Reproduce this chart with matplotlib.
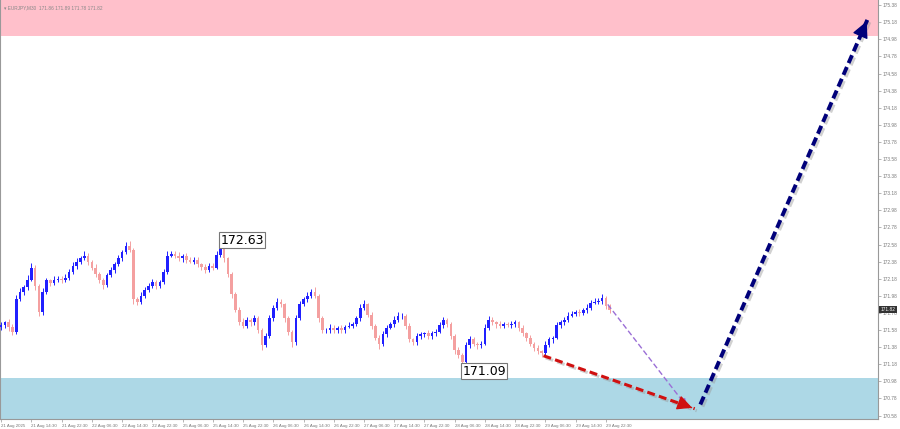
import matplotlib
matplotlib.use("Agg")
import matplotlib.pyplot as plt
import matplotlib.patheffects as pe
import matplotlib.transforms as mtransforms

# EURJPY, hourly candles 21 Aug - 29 Aug 2025
first_open = 171.62
closes = [
    171.64, 171.67, 171.62, 171.56, 171.94, 172.03, 172.08, 172.17, 172.31, 172.10,
    171.79, 172.03, 172.16, 172.13, 172.17, 172.18, 172.16, 172.19, 172.26, 172.33,
    172.38, 172.42, 172.45, 172.38, 172.31, 172.23, 172.17, 172.11, 172.22, 172.28,
    172.35, 172.42, 172.49, 172.56, 172.52, 171.94, 171.91, 171.98, 172.05, 172.10,
    172.14, 172.10, 172.14, 172.26, 172.45, 172.47, 172.45, 172.42, 172.45, 172.40,
    172.38, 172.40, 172.35, 172.32, 172.28, 172.33, 172.31, 172.46, 172.56, 172.42,
    172.23, 172.00, 171.82, 171.68, 171.63, 171.70, 171.67, 171.72, 171.58, 171.41,
    171.51, 171.72, 171.84, 171.91, 171.88, 171.72, 171.56, 171.44, 171.72, 171.89,
    171.94, 171.98, 172.03, 171.98, 171.72, 171.58, 171.58, 171.61, 171.58, 171.61,
    171.58, 171.62, 171.63, 171.65, 171.72, 171.84, 171.88, 171.76, 171.63, 171.49,
    171.42, 171.53, 171.61, 171.65, 171.70, 171.74, 171.75, 171.63, 171.47, 171.44,
    171.51, 171.53, 171.54, 171.51, 171.54, 171.56, 171.64, 171.70, 171.65, 171.51,
    171.35, 171.29, 171.21, 171.41, 171.47, 171.42, 171.40, 171.42, 171.61, 171.70,
    171.67, 171.65, 171.63, 171.65, 171.64, 171.65, 171.67, 171.61, 171.54, 171.49,
    171.42, 171.37, 171.33, 171.31, 171.41, 171.47, 171.49, 171.64, 171.67, 171.70,
    171.75, 171.77, 171.79, 171.78, 171.81, 171.84, 171.90, 171.91, 171.92, 171.95,
    171.86, 171.82,
]
# upper / lower shadows in pips (0.01)
wick_up = [
    3, 2, 4, 3, 5, 4, 3, 5, 6, 3, 2, 4, 3, 2, 4, 3, 3, 4, 3, 5,
    4, 3, 5, 3, 2, 4, 3, 2, 3, 4, 3, 4, 3, 5, 6, 2, 3, 4, 3, 3,
    4, 3, 2, 4, 5, 3, 3, 4, 2, 3, 3, 4, 3, 2, 3, 4, 3, 4, 7, 3,
    2, 3, 2, 3, 4, 3, 2, 4, 2, 3, 3, 4, 3, 5, 3, 2, 3, 2, 4, 3,
    3, 4, 3, 5, 2, 3, 3, 4, 3, 2, 3, 2, 4, 3, 3, 4, 5, 2, 3, 2,
    3, 4, 3, 3, 4, 5, 3, 2, 3, 2, 3, 3, 2, 4, 3, 3, 4, 3, 2, 3,
    2, 3, 2, 3, 4, 3, 2, 3, 4, 5, 3, 2, 4, 3, 3, 4, 3, 2, 3, 2,
    3, 2, 3, 2, 4, 3, 2, 4, 3, 3, 4, 3, 3, 4, 3, 4, 3, 4, 3, 5,
    3, 3,
]
wick_dn = [
    4, 3, 5, 4, 3, 2, 4, 3, 2, 5, 5, 3, 3, 4, 2, 3, 3, 2, 3, 2,
    3, 3, 2, 4, 3, 3, 4, 5, 3, 2, 3, 2, 3, 2, 3, 6, 4, 3, 3, 2,
    3, 4, 3, 2, 3, 2, 3, 3, 4, 3, 2, 3, 3, 4, 3, 2, 3, 2, 3, 4,
    3, 4, 3, 4, 3, 3, 4, 3, 4, 6, 3, 2, 3, 2, 3, 4, 4, 6, 3, 2,
    3, 3, 2, 3, 4, 4, 3, 3, 3, 4, 3, 3, 2, 3, 2, 3, 2, 3, 4, 3,
    6, 3, 3, 2, 3, 2, 3, 4, 3, 4, 3, 4, 3, 3, 4, 3, 2, 3, 3, 4,
    5, 4, 12, 3, 4, 3, 4, 3, 2, 3, 3, 4, 3, 3, 2, 3, 3, 4, 3, 4,
    3, 4, 3, 5, 3, 3, 4, 2, 3, 3, 3, 2, 3, 3, 2, 3, 3, 2, 3, 3,
    3, 4,
]

time_labels = [
    "21 Aug 2025", "21 Aug 14:30", "21 Aug 22:30", "22 Aug 06:30", "22 Aug 14:30",
    "22 Aug 22:30", "25 Aug 06:30", "25 Aug 14:30", "25 Aug 22:30", "26 Aug 06:30",
    "26 Aug 14:30", "26 Aug 22:30", "27 Aug 06:30", "27 Aug 14:30", "27 Aug 22:30",
    "28 Aug 06:30", "28 Aug 14:30", "28 Aug 22:30", "29 Aug 06:30", "29 Aug 14:30",
    "29 Aug 22:30",
]
bars_per_label = 8

price_ticks = [175.38, 175.18, 174.98, 174.78, 174.58, 174.38, 174.18, 173.98,
               173.78, 173.58, 173.38, 173.18, 172.98, 172.78, 172.58, 172.38,
               172.18, 171.98, 171.78, 171.58, 171.38, 171.18, 170.98, 170.78,
               170.58]

# target zones
resist_zone = (175.02, 175.50)
support_zone = (170.40, 171.02)

# forecast arrows (bar index, price)
red_x, red_y = [143.5, 183.5], [171.28, 170.66]
purple_x, purple_y = [160.5, 181.5], [171.88, 170.68]
navy_x, navy_y = [185, 229.3], [170.71, 175.22]

high_label = (58, 172.63, "172.63")
low_label = (122, 171.10, "171.09")
header = "EURJPY,M30  171.86 171.89 171.78 171.82"
last_price = 171.82

small = dict(family=["Liberation Sans", "DejaVu Sans"])

fig = plt.figure(figsize=(9, 4.29), dpi=100)
ax = fig.add_axes([0.0, 10 / 429, 878 / 900, 419 / 429])

ax.axhspan(*resist_zone, color="#ffc0cb", lw=0, zorder=0)
ax.axhspan(*support_zone, color="#add8e6", lw=0, zorder=0)

opens = [first_open] + closes[:-1]
for i, (o, c) in enumerate(zip(opens, closes)):
    hi = max(o, c) + wick_up[i] / 100
    lo = min(o, c) - wick_dn[i] / 100
    col = "#2020ff" if c >= o else "#f4a0a0"
    ax.vlines(i, lo, hi, color=col, lw=0.7, zorder=2)
    ax.bar(i, max(abs(c - o), 0.006), bottom=min(o, c), width=0.7,
           color=col, lw=0, zorder=3)

shadow = [pe.SimpleLineShadow(offset=(1.5, -1.5), shadow_color="#999999", alpha=0.45),
          pe.Normal()]

ax.plot(purple_x, purple_y, color="#9b6fd6", lw=1.0, dashes=(4, 2), zorder=4)
ax.annotate("", xy=(purple_x[1], purple_y[1]),
            xytext=(purple_x[1] - 0.9, purple_y[1] + 0.05),
            arrowprops=dict(arrowstyle="-|>,head_length=0.5,head_width=0.25",
                            color="#9b6fd6", lw=0.8), zorder=4)

ax.plot(red_x, red_y, color="#d01010", lw=2.2, dashes=(2.6, 1.4), zorder=5,
        path_effects=shadow)
ax.annotate("", xy=(red_x[1], red_y[1]),
            xytext=(red_x[1] - 1.5, red_y[1] + 0.025),
            arrowprops=dict(arrowstyle="-|>,head_length=0.9,head_width=0.45",
                            color="#d01010", lw=1), zorder=5)

ax.plot(navy_x, navy_y, color="#00007a", lw=2.8, dashes=(2.2, 1.1), zorder=6,
        path_effects=shadow)
ax.annotate("", xy=(navy_x[1], navy_y[1]),
            xytext=(navy_x[1] - 0.6, navy_y[1] - 0.06),
            arrowprops=dict(arrowstyle="-|>,head_length=1.0,head_width=0.5",
                            color="#00007a", lw=1), zorder=6)

box = dict(boxstyle="square,pad=0.12", fc="white", ec="#777777", lw=0.8)
for bx, by, txt in (high_label, low_label):
    ax.text(bx, by, txt, fontsize=9, ha="left", va="center", bbox=box, zorder=7)

ax.text(0.004, 0.988, "\u25be " + header, transform=ax.transAxes, fontsize=3.4,
        color="#888888", ha="left", va="top", **small)

ax.set_xlim(-0.3, 232)
ax.set_ylim(170.54, 175.44)

ax.yaxis.tick_right()
ax.set_yticks(price_ticks)
ax.set_yticklabels([f"{p:.2f}" for p in price_ticks], **small)
ax.tick_params(axis="y", labelsize=3.4, labelcolor="#777777", color="#999999",
               length=2, width=0.5, pad=1.5)

ax.set_xticks([k * bars_per_label for k in range(len(time_labels))])
ax.set_xticklabels(time_labels, ha="left", **small)
ax.tick_params(axis="x", labelsize=3.2, labelcolor="#777777", color="#999999",
               length=2, width=0.5, pad=1.5)

tr = mtransforms.blended_transform_factory(ax.transAxes, ax.transData)
ax.text(1.003, last_price, f"{last_price:.2f}", transform=tr, fontsize=3.4,
        color="white", ha="left", va="center", clip_on=False,
        bbox=dict(boxstyle="square,pad=0.3", fc="#333333", ec="none"), **small)

ax.spines["top"].set_visible(False)
for s in ("left", "right", "bottom"):
    ax.spines[s].set_color("#999999")
    ax.spines[s].set_linewidth(0.8)

fig.savefig("out.png", dpi=100)
